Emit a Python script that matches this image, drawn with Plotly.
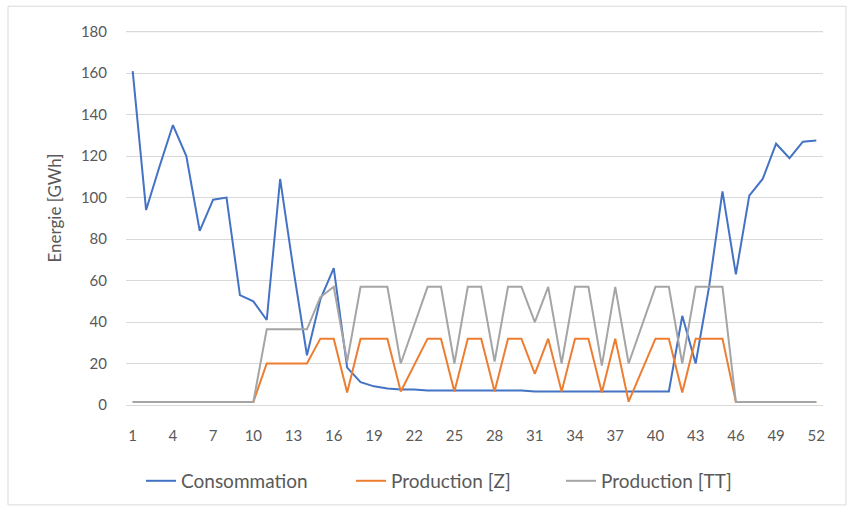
import plotly.graph_objects as go

# Weekly energy balance (GWh), weeks 1-52
weeks = list(range(1, 53))

consommation = [
    161, 94, 115, 135, 120, 84, 99, 100, 53, 50,
    41, 109, 65, 24, 51, 66, 18, 11, 9, 8,
    7.5, 7.5, 7, 7, 7, 7, 7, 7, 7, 7,
    6.5, 6.5, 6.5, 6.5, 6.5, 6.5, 6.5, 6.5, 6.5, 6.5,
    6.5, 43, 20, 57, 103, 63, 101, 109, 126, 119,
    127, 127.5,
]

production_z = [
    1.5, 1.5, 1.5, 1.5, 1.5, 1.5, 1.5, 1.5, 1.5, 1.5,
    20, 20, 20, 20, 32, 32, 6, 32, 32, 32,
    6.5, 19, 32, 32, 6.5, 32, 32, 6.5, 32, 32,
    15, 32, 6.5, 32, 32, 6, 32, 1.6, 17, 32,
    32, 6, 32, 32, 32, 1.5, 1.5, 1.5, 1.5, 1.5,
    1.5, 1.5,
]

production_tt = [
    1.5, 1.5, 1.5, 1.5, 1.5, 1.5, 1.5, 1.5, 1.5, 1.5,
    36.5, 36.5, 36.5, 36.5, 52, 57, 21, 57, 57, 57,
    20, 38, 57, 57, 20, 57, 57, 21, 57, 57,
    40, 57, 20, 57, 57, 19, 57, 20, 39, 57,
    57, 20, 57, 57, 57, 1.5, 1.5, 1.5, 1.5, 1.5,
    1.5, 1.5,
]

x_ticks = list(range(1, 53, 3))
y_ticks = list(range(0, 181, 20))

series = [
    ("Consommation", consommation, "#4472C4"),
    ("Production [Z]", production_z, "#ED7D31"),
    ("Production [TT]", production_tt, "#A5A5A5"),
]

W, H = 853, 511
Y_MAX = 190
ML, MR, MB = 126, 30, 106
# keep 0 at y=405 px and 180 at y=31.5 px
MT = (H - MB) - Y_MAX * (H - MB - 31.5) / 180
plot_w = W - ML - MR
plot_h = H - MT - MB

def px_to_paper_x(px):
    return (px - ML) / plot_w

def px_to_paper_y(py):
    return (H - MB - py) / plot_h

font_family = "Lato, 'Open Sans', sans-serif"
text_grey = "#595959"
grid_grey = "#D9D9D9"

fig = go.Figure()
for name, values, color in series:
    fig.add_trace(go.Scatter(
        x=weeks, y=values, name=name, mode="lines",
        line=dict(color=color, width=2),
    ))

# chart-area frame plus the top gridline of the value axis
frame = dict(
    type="rect", xref="paper", yref="paper",
    x0=px_to_paper_x(8), x1=px_to_paper_x(846),
    y0=px_to_paper_y(505), y1=px_to_paper_y(6),
    line=dict(color=grid_grey, width=1), fillcolor="rgba(0,0,0,0)",
    layer="below",
)
top_grid = dict(
    type="line", xref="paper", yref="y",
    x0=0, x1=1, y0=y_ticks[-1], y1=y_ticks[-1],
    line=dict(color=grid_grey, width=1), layer="below",
)

fig.update_layout(
    width=W, height=H,
    margin=dict(l=ML, r=MR, t=MT, b=MB, autoexpand=False),
    paper_bgcolor="white", plot_bgcolor="white",
    font=dict(family=font_family, size=15, color=text_grey),
    showlegend=True,
    legend=dict(
        orientation="h", x=px_to_paper_x(141), xanchor="left",
        y=px_to_paper_y(481), yanchor="middle",
        font=dict(size=19, color=text_grey),
        entrywidth=165, traceorder="normal",
        bgcolor="rgba(0,0,0,0)",
    ),
    xaxis=dict(
        range=[0.5, 52.5], tickmode="array", tickvals=x_ticks,
        ticktext=[str(t) for t in x_ticks],
        showgrid=False, zeroline=False, showline=False,
        ticks="", ticklabelstandoff=20,
        tickfont=dict(size=15, color=text_grey),
    ),
    yaxis=dict(
        range=[0, Y_MAX], tickmode="array", tickvals=y_ticks,
        showgrid=True, gridcolor=grid_grey, gridwidth=1,
        zeroline=True, zerolinecolor=grid_grey, zerolinewidth=1,
        showline=False, ticks="",
        ticklabelstandoff=18,
        tickfont=dict(size=15, color=text_grey),
        title=dict(text="Energie [GWh]", standoff=14,
                   font=dict(size=17, color=text_grey)),
    ),
    shapes=[frame, top_grid],
)

fig.write_html("out.html")
